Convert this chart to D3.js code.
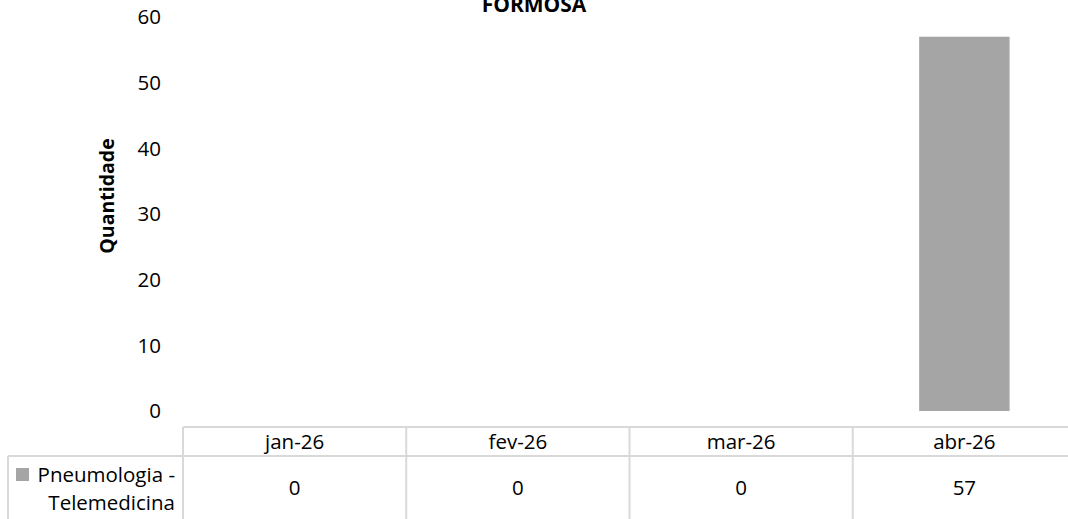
<!DOCTYPE html>
<html>
<head>
<meta charset="UTF-8">
<script src="https://d3js.org/d3.v7.min.js"></script>
<style>
    body { margin: 0; background: #fff; overflow: hidden; }
    svg { display: block; }
    text { font-family: "Open Sans", sans-serif; fill: #000; }
    .tick-label { font-size: 20.5px; }
    .title { font-size: 21px; font-weight: 700; }
    .ylabel { font-size: 19.5px; font-weight: 700; }
    .grid-line { stroke: #d9d9d9; stroke-width: 2; }
</style>
</head>
<body>
<svg width="1068" height="519"></svg>
<script>
    // data
    var title = "FORMOSA";
    var months = ["jan-26", "fev-26", "mar-26", "abr-26"];
    var values = [0, 0, 0, 57];
    var seriesName = ["Pneumologia -", "Telemedicina"];
    var yTicks = [0, 10, 20, 30, 40, 50, 60];

    var svg = d3.select("svg");
    var plotLeft = 183, plotRight = 1076, plotTop = 17, plotBottom = 411;

    var x = d3.scaleBand().domain(months).range([plotLeft, plotRight]).padding(0);
    var y = d3.scaleLinear().domain([0, 60]).range([plotBottom, plotTop]);

    // title (clipped at top as in the original)
    svg.append("text")
        .attr("class", "title")
        .attr("x", 534)
        .attr("y", 12)
        .attr("text-anchor", "middle")
        .text(title);

    // y tick labels
    svg.selectAll(".ytick")
        .data(yTicks)
        .enter().append("text")
        .attr("class", "tick-label")
        .attr("x", 161)
        .attr("y", d => y(d))
        .attr("dy", "0.35em")
        .attr("text-anchor", "end")
        .text(d => d);

    // y axis title
    svg.append("text")
        .attr("class", "ylabel")
        .attr("transform", "translate(114,196) rotate(-90)")
        .attr("text-anchor", "middle")
        .text("Quantidade");

    // bars
    var barW = x.bandwidth() * 0.405;
    svg.selectAll(".bar")
        .data(values)
        .enter().append("rect")
        .attr("class", "bar")
        .attr("x", (d, i) => x(months[i]) + (x.bandwidth() - barW) / 2)
        .attr("y", d => y(d))
        .attr("width", barW)
        .attr("height", d => y(0) - y(d))
        .attr("fill", "#a5a5a5");

    // data table
    var rowTop = 427, rowMid = 456, rowBot = 530;
    var g = svg.append("g");
    g.append("line").attr("class", "grid-line")
        .attr("x1", plotLeft).attr("x2", plotRight).attr("y1", rowTop).attr("y2", rowTop);
    g.append("line").attr("class", "grid-line")
        .attr("x1", 8).attr("x2", plotRight).attr("y1", rowMid).attr("y2", rowMid);
    g.append("line").attr("class", "grid-line")
        .attr("x1", 8).attr("x2", 8).attr("y1", rowMid).attr("y2", rowBot);
    g.selectAll(".vline")
        .data(months.concat(["end"]))
        .enter().append("line")
        .attr("class", "grid-line")
        .attr("x1", (d, i) => i < months.length ? x(d) : plotRight)
        .attr("x2", (d, i) => i < months.length ? x(d) : plotRight)
        .attr("y1", rowTop)
        .attr("y2", rowBot);

    g.selectAll(".cat")
        .data(months)
        .enter().append("text")
        .attr("class", "tick-label")
        .attr("x", d => x(d) + x.bandwidth() / 2)
        .attr("y", 442)
        .attr("dy", "0.35em")
        .attr("text-anchor", "middle")
        .text(d => d);

    g.selectAll(".val")
        .data(values)
        .enter().append("text")
        .attr("class", "tick-label")
        .attr("x", (d, i) => x(months[i]) + x.bandwidth() / 2)
        .attr("y", 488)
        .attr("dy", "0.35em")
        .attr("text-anchor", "middle")
        .text(d => d);

    // legend key in table
    g.append("rect")
        .attr("x", 16).attr("y", 468)
        .attr("width", 13).attr("height", 13)
        .attr("fill", "#a5a5a5");
    g.selectAll(".series")
        .data(seriesName)
        .enter().append("text")
        .attr("class", "tick-label")
        .attr("x", 175)
        .attr("y", (d, i) => 475 + i * 28)
        .attr("dy", "0.35em")
        .attr("text-anchor", "end")
        .text(d => d);
</script>
</body>
</html>
